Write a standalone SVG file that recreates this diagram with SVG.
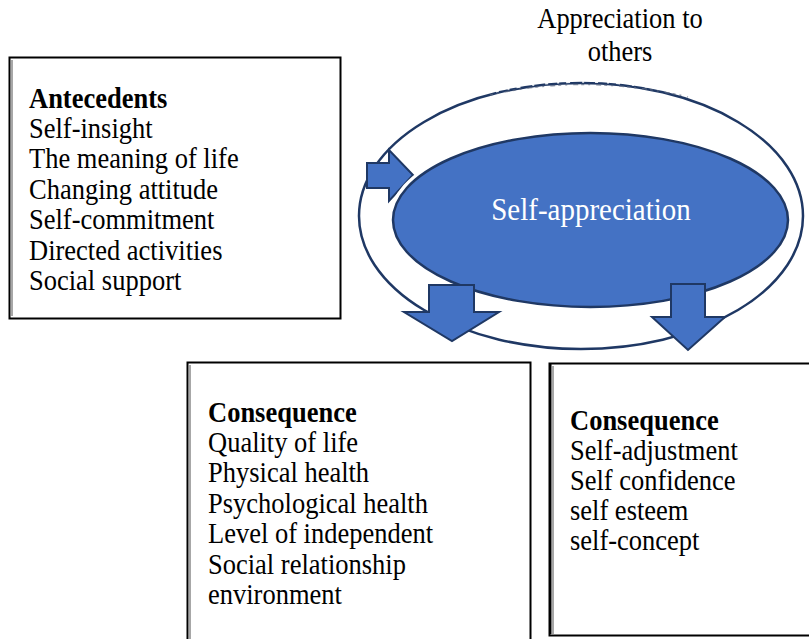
<svg xmlns="http://www.w3.org/2000/svg" width="809" height="639" viewBox="0 0 809 639">
  <defs>
    <style>
      .box { fill: #ffffff; stroke: #000000; stroke-width: 2; }
      .edge { stroke: #8a8a8a; stroke-width: 1.5; }
      .txt { font-family: "Liberation Serif", "Times New Roman", serif; font-size: 26.5px; fill: #000000; }
      .head { font-weight: bold; }
      .ring { fill: none; stroke: #1f3864; stroke-width: 2.5; }
      .core { fill: #4472c4; stroke: #1f3864; stroke-width: 2.5; }
      .arrow { fill: #4472c4; stroke: #1f3864; stroke-width: 2; stroke-linejoin: miter; }
      .label { font-family: "Liberation Serif", "Times New Roman", serif; font-size: 29px; fill: #ffffff; }
    </style>
  </defs>
  <rect width="809" height="639" fill="#ffffff"/>

  <!-- outer loop and the arrow feeding into the central concept -->
  <g id="connectors">
    <ellipse class="ring" cx="581" cy="216" rx="222" ry="133"/>
    <!-- ragged stretch of the loop under the caption -->
    <path d="M490,93 Q585,70 688,95" fill="none" stroke="#ffffff" stroke-width="1.6" stroke-dasharray="0 6 3 9 2 7 4 12 2 5" opacity="0.9"/>
    <path d="M490,95 Q585,73 688,97" fill="none" stroke="#5a6780" stroke-width="1.5" stroke-dasharray="3 4 2 6 5 3" opacity="0.7"/>
    <polygon id="arrow-in" class="arrow" points="367,163 389,163 389,150 413,175 389,201 389,188 367,188"/>
  </g>

  <g id="self-appreciation">
    <ellipse cx="590.5" cy="220" rx="198" ry="87.5" fill="none" stroke="#ffffff" stroke-width="8"/>
    <ellipse class="core" cx="590.5" cy="220" rx="197.5" ry="87"/>
    <text class="label" transform="translate(591,220) scale(1,1.12)" text-anchor="middle">Self-appreciation</text>
  </g>

  <g id="arrows-out">
    <polygon id="arrow-left" class="arrow" points="429,285 474,285 474,312 499,312 452,341 404,312 429,312"/>
    <polygon id="arrow-right" class="arrow" points="671,284 705,284 705,317 725,317 688,350 652,317 671,317"/>
  </g>

  <g id="appreciation-to-others">
    <text class="txt" transform="translate(620,28) scale(1,1.12)" text-anchor="middle">Appreciation to<tspan x="0" dy="29.5">others</tspan></text>
  </g>

  <g id="antecedents">
    <rect class="box" x="9.5" y="57.5" width="331" height="261"/>
    <line class="edge" x1="12" y1="60" x2="12" y2="316"/>
    <text class="txt" transform="translate(29,107.5) scale(1,1.12)"><tspan class="head">Antecedents</tspan><tspan x="0" dy="27.2">Self-insight</tspan><tspan x="0" dy="27.2">The meaning of life</tspan><tspan x="0" dy="27.2">Changing attitude</tspan><tspan x="0" dy="27.2">Self-commitment</tspan><tspan x="0" dy="27.2">Directed activities</tspan><tspan x="0" dy="27.2">Social support</tspan></text>
  </g>

  <g id="consequence-health">
    <rect class="box" x="187.5" y="362.5" width="343" height="300"/>
    <line class="edge" x1="190" y1="365" x2="190" y2="639"/>
    <text class="txt" transform="translate(208,421.5) scale(1,1.12)"><tspan class="head">Consequence</tspan><tspan x="0" dy="27.2">Quality of life</tspan><tspan x="0" dy="27.2">Physical health</tspan><tspan x="0" dy="27.2">Psychological health</tspan><tspan x="0" dy="27.2">Level of independent</tspan><tspan x="0" dy="27.2">Social relationship</tspan><tspan x="0" dy="27.2">environment</tspan></text>
  </g>

  <g id="consequence-self">
    <rect class="box" x="549.5" y="363.5" width="290" height="272"/>
    <line x1="550.5" y1="364" x2="550.5" y2="634" stroke="#000000" stroke-width="2"/>
    <line class="edge" x1="553" y1="366" x2="553" y2="634"/>
    <text class="txt" transform="translate(570,429.5) scale(1,1.12)"><tspan class="head">Consequence</tspan><tspan x="0" dy="27">Self-adjustment</tspan><tspan x="0" dy="27">Self confidence</tspan><tspan x="0" dy="27">self esteem</tspan><tspan x="0" dy="27">self-concept</tspan></text>
  </g>
</svg>
